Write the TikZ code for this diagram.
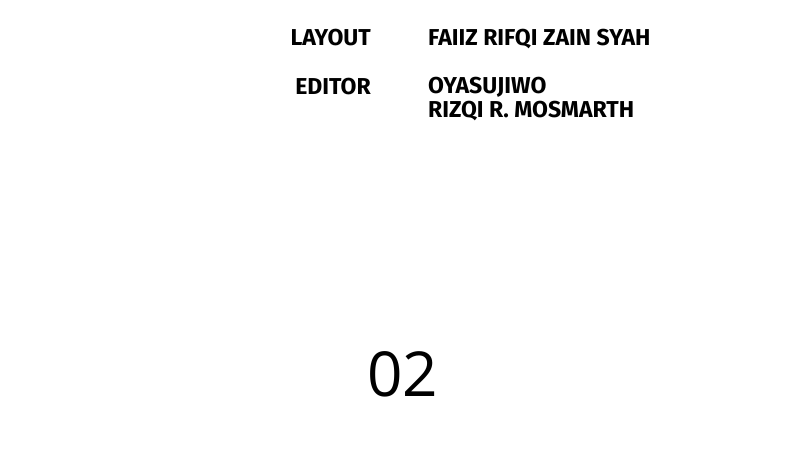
\documentclass[tikz,border=0pt]{standalone}
\usepackage{fontspec}
\setmainfont{Fira Sans}
\newfontfamily\numfont{Open Sans}
\begin{document}
\begin{tikzpicture}[x=1pt,y=-1pt,
  credit/.style={inner sep=0pt,font=\fontsize{23}{27}\selectfont\bfseries},
  bignum/.style={inner sep=0pt,font=\fontsize{62}{66}\selectfont\numfont}]
\useasboundingbox (0,0) rectangle (800,464);
\fill[white] (0,0) rectangle (800,464);
\node[credit,anchor=base east] (lay) at (371,45) {LAYOUT};
\node[credit,anchor=base west] (layn) at (428,45) {FAIIZ RIFQI ZAIN SYAH};
\node[credit,anchor=base east] (ed) at (371,94) {EDITOR};
\node[credit,anchor=base west] (ed1) at (428,93) {OYASUJIWO};
\node[credit,anchor=base west] (ed2) at (428,117) {RIZQI R. MOSMARTH};
\node[bignum,anchor=base] (num) at (402.5,396) {02};
\end{tikzpicture}
\end{document}
